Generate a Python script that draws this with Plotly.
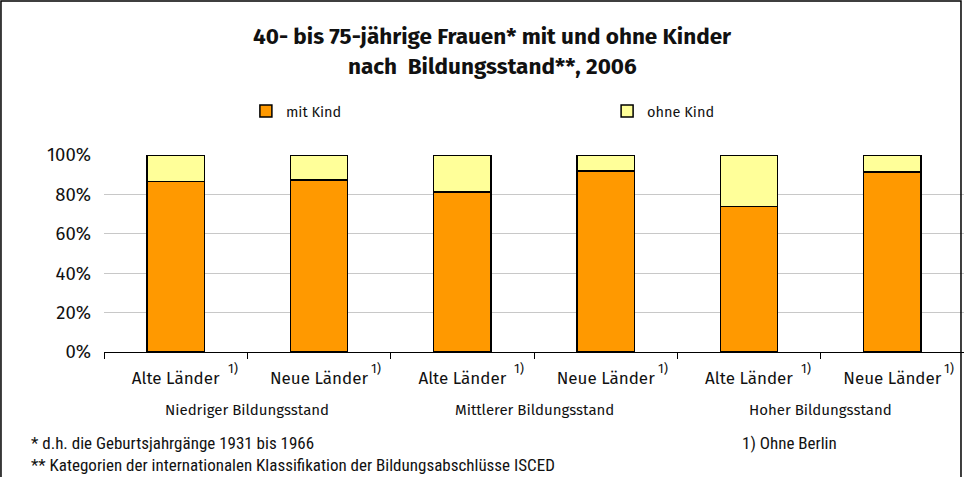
import plotly.graph_objects as go

# Data
categories = ["Alte Länder", "Neue Länder", "Alte Länder", "Neue Länder", "Alte Länder", "Neue Länder"]
groups = ["Niedriger Bildungsstand", "Mittlerer Bildungsstand", "Hoher Bildungsstand"]
mit_kind = [0.865, 0.872, 0.812, 0.920, 0.738, 0.913]
ohne_kind = [round(1 - v, 3) for v in mit_kind]
title_lines = ["40- bis 75-jährige Frauen* mit und ohne Kinder", "nach  Bildungsstand**, 2006"]

FONT = "Fira Sans, Open Sans, Noto Sans, sans-serif"
NARROW = "Liberation Sans Narrow, Roboto Condensed, Noto Sans, sans-serif"

x_idx = list(range(len(categories)))

fig = go.Figure()
fig.add_trace(go.Bar(x=x_idx, y=mit_kind, name="mit Kind", width=0.4, legend="legend",
                     marker=dict(color="#FF9900", line=dict(color="black", width=1.5))))
fig.add_trace(go.Bar(x=x_idx, y=ohne_kind, name="ohne Kind", width=0.4, legend="legend2",
                     marker=dict(color="#FFFF99", line=dict(color="black", width=1.5))))

legend_style = dict(orientation="h", xanchor="left", y=1.223, yanchor="middle",
                    font=dict(size=14.5), itemwidth=30, bgcolor="rgba(0,0,0,0)")

fig.update_layout(
    barmode="stack",
    width=964, height=477,
    margin=dict(l=104, r=0, t=155, b=125),
    plot_bgcolor="white", paper_bgcolor="white",
    font=dict(family=FONT, size=14, color="#111111"),
    legend=dict(x=0.165, **legend_style),
    legend2=dict(x=0.585, **legend_style),
    showlegend=True,
)

fig.update_xaxes(type="category", tickmode="array", tickvals=x_idx, ticktext=categories,
                 tickson="boundaries", ticks="outside", ticklen=6, tickcolor="black",
                 showline=True, linecolor="black", linewidth=1, showgrid=False,
                 tickfont=dict(size=17), ticklabelstandoff=11, range=[-0.5, 5.5])
fig.update_yaxes(range=[0, 1], tickvals=[0, 0.2, 0.4, 0.6, 0.8, 1.0], tickformat=".0%",
                 showgrid=True, gridcolor="#C8C8C8", gridwidth=1, zeroline=False,
                 showline=False, ticks="", tickfont=dict(size=18.5), ticklabelstandoff=12)

# title (two lines, bold)
for k, line in enumerate(title_lines):
    fig.add_annotation(x=0.452, y=1.60 - 0.153 * k, xref="paper", yref="paper", text=f"<b>{line}</b>",
                       showarrow=False, font=dict(size=22.5), yanchor="middle", xanchor="center")

# superscript footnote markers on category labels
for i in x_idx:
    fig.add_annotation(x=i, y=-0.085, xref="x", yref="paper", text="1)", showarrow=False,
                       xshift=57, font=dict(size=13), yanchor="middle")

# group labels
for g, name in enumerate(groups):
    fig.add_annotation(x=2 * g + 0.5, y=-0.295, xref="x", yref="paper", text=name,
                       showarrow=False, font=dict(size=15), yanchor="middle")

# footnotes
fig.add_annotation(x=-0.087, y=-0.462, xref="paper", yref="paper", xanchor="left", yanchor="middle",
                   text="* d.h. die Geburtsjahrgänge 1931 bis 1966", showarrow=False,
                   font=dict(size=17, family=NARROW))
fig.add_annotation(x=-0.087, y=-0.574, xref="paper", yref="paper", xanchor="left", yanchor="middle",
                   text="** Kategorien der internationalen Klassifikation der Bildungsabschlüsse ISCED",
                   showarrow=False, font=dict(size=17, family=NARROW))
fig.add_annotation(x=0.74, y=-0.462, xref="paper", yref="paper", xanchor="left", yanchor="middle",
                   text="1) Ohne Berlin", showarrow=False, font=dict(size=17, family=NARROW))

# outer frame
fig.add_shape(type="rect", xref="paper", yref="paper", x0=-0.1198, x1=0.9965, y0=-1.0, y1=1.782,
              line=dict(color="black", width=1.5), layer="above")

fig.write_html("out.html", config={"displayModeBar": False},
               post_script="document.body.style.margin='0';")
